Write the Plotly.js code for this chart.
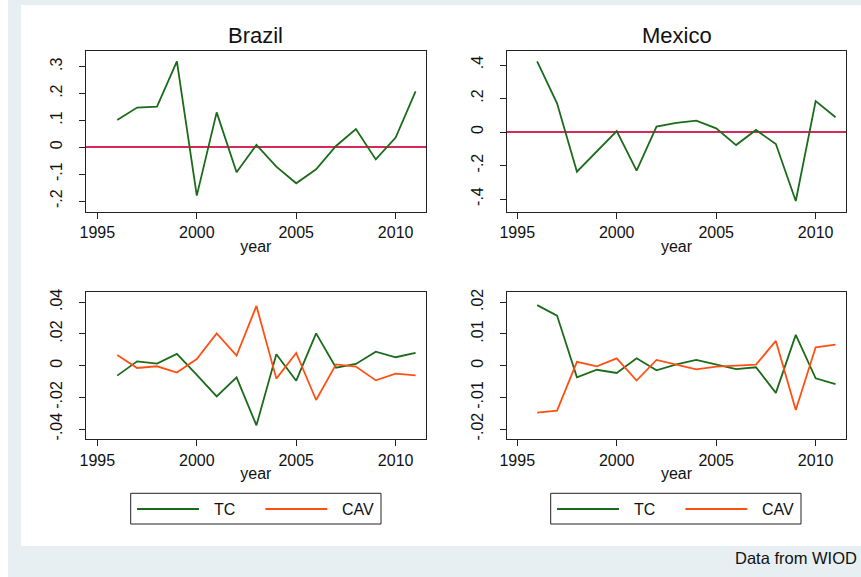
<!DOCTYPE html>
<html>
<head>
<meta charset="utf-8">
<script src="https://cdn.plot.ly/plotly-3.0.1.min.js"></script>
<style>
  html, body { margin: 0; padding: 0; background: #e7eff2; }
  #chart { width: 861px; height: 577px; }
</style>
</head>
<body>
<div id="chart"></div>
<script>
// ---- data ----
const years = [1996, 1997, 1998, 1999, 2000, 2001, 2002, 2003, 2004, 2005, 2006, 2007, 2008, 2009, 2010, 2011];

// top row: single green series per country
const brazilTop = [0.102, 0.148, 0.151, 0.320, -0.180, 0.130, -0.093, 0.009, -0.072, -0.134, -0.082, 0.005, 0.068, -0.045, 0.036, 0.208];
const mexicoTop = [0.422, 0.171, -0.237, -0.117, 0.006, -0.231, 0.032, 0.054, 0.068, 0.022, -0.078, 0.012, -0.072, -0.412, 0.185, 0.088];

// bottom row: TC and CAV per country
const brazilTC  = [-0.0063, 0.0027, 0.0013, 0.0074, -0.0059, -0.0194, -0.0074, -0.0377, 0.0072, -0.0095, 0.0204, -0.0013, 0.0011, 0.0088, 0.0053, 0.0080];
const brazilCAV = [0.0067, -0.0015, -0.0004, -0.0044, 0.0042, 0.0204, 0.0063, 0.0377, -0.0082, 0.0080, -0.0217, 0.0008, -0.0006, -0.0093, -0.0051, -0.0061];
const mexicoTC  = [0.0191, 0.0158, -0.0037, -0.0013, -0.0023, 0.0023, -0.0015, 0.0004, 0.0018, 0.0003, -0.0011, -0.0005, -0.0086, 0.0097, -0.0040, -0.0058];
const mexicoCAV = [-0.0148, -0.0142, 0.0012, -0.0002, 0.0023, -0.0047, 0.0018, 0.0002, -0.0012, -0.0003, -0.0001, 0.0003, 0.0078, -0.0140, 0.0058, 0.0066];

const panelTitles = ["Brazil", "Mexico"];
const seriesNames = ["TC", "CAV"];
const xTickVals = [1995, 2000, 2005, 2010];
const yTicksBrazilTop = { vals: [-0.2, -0.1, 0, 0.1, 0.2, 0.3], text: ["-.2", "-.1", "0", ".1", ".2", ".3"] };
const yTicksMexicoTop = { vals: [-0.4, -0.2, 0, 0.2, 0.4], text: ["-.4", "-.2", "0", ".2", ".4"] };
const yTicksBrazilBot = { vals: [-0.04, -0.02, 0, 0.02, 0.04], text: ["-.04", "-.02", "0", ".02", ".04"] };
const yTicksMexicoBot = { vals: [-0.02, -0.01, 0, 0.01, 0.02], text: ["-.02", "-.01", "0", ".01", ".02"] };
const sourceNote = "Data from WIOD";

// ---- styling ----
const GREEN = "#1b6b1b";
const ORANGE = "#ff5014";
const ZERO = "#d42a55";
const FRAME = "#222222";
const FONT = "Arial, 'Liberation Sans', Helvetica, sans-serif";
const W = 861, H = 577;
const px = v => v / W;
const py = v => (H - v) / H;
const seriesColors = [GREEN, ORANGE];

const traces = [
  { x: years, y: brazilTop, xaxis: "x", yaxis: "y", mode: "lines", line: { color: GREEN, width: 1.8 }, name: "Brazil" },
  { x: years, y: mexicoTop, xaxis: "x2", yaxis: "y2", mode: "lines", line: { color: GREEN, width: 1.8 }, name: "Mexico" },
  { x: years, y: brazilTC, xaxis: "x3", yaxis: "y3", mode: "lines", line: { color: GREEN, width: 1.8 }, name: seriesNames[0] },
  { x: years, y: brazilCAV, xaxis: "x3", yaxis: "y3", mode: "lines", line: { color: ORANGE, width: 1.8 }, name: seriesNames[1] },
  { x: years, y: mexicoTC, xaxis: "x4", yaxis: "y4", mode: "lines", line: { color: GREEN, width: 1.8 }, name: seriesNames[0] },
  { x: years, y: mexicoCAV, xaxis: "x4", yaxis: "y4", mode: "lines", line: { color: ORANGE, width: 1.8 }, name: seriesNames[1] }
];

function xAxis(domain, range, anchor) {
  return {
    domain: domain, range: range, anchor: anchor,
    tickmode: "array", tickvals: xTickVals, ticktext: xTickVals.map(String),
    ticks: "outside", ticklen: 6, tickwidth: 1, tickcolor: FRAME,
    showline: true, mirror: true, linecolor: FRAME, linewidth: 1,
    showgrid: false, zeroline: false, automargin: false,
    tickfont: { family: FONT, size: 16, color: "#111" },
    title: { text: "year", font: { family: FONT, size: 16, color: "#111" }, standoff: 0 }
  };
}
function yAxis(domain, range, anchor, ticks, zero) {
  return {
    domain: domain, range: range, anchor: anchor,
    tickmode: "array", tickvals: ticks.vals, ticktext: ticks.text,
    tickangle: -90,
    ticks: "outside", ticklen: 6, tickwidth: 1, tickcolor: FRAME,
    ticklabelstandoff: 11,
    showline: true, mirror: true, linecolor: FRAME, linewidth: 1,
    showgrid: false, automargin: false,
    zeroline: zero, zerolinecolor: ZERO, zerolinewidth: 2,
    tickfont: { family: FONT, size: 16, color: "#111" }
  };
}

const xL = [px(86), px(425.7)];
const xR = [px(507.3), px(845.7)];
const yT = [py(211.7), py(50.7)];
const yB = [py(439.3), py(292.3)];

// legend boxes (one under each bottom panel), drawn as shapes + text
const legendLefts = [130.7, 550.7];
const shapes = [
  { type: "rect", xref: "paper", yref: "paper", x0: px(21), x1: 1.01, y0: py(546), y1: py(5), fillcolor: "#ffffff", line: { width: 0 }, layer: "below" },
  { type: "rect", xref: "paper", yref: "paper", x0: -0.01, x1: px(8), y0: -0.01, y1: 1.01, fillcolor: "#ffffff", line: { width: 0 }, layer: "below" }
];
const annotations = [
  { text: panelTitles[0], xref: "paper", yref: "paper", x: (xL[0] + xL[1]) / 2, y: py(35), xanchor: "center", yanchor: "middle", showarrow: false, font: { family: FONT, size: 22, color: "#111" } },
  { text: panelTitles[1], xref: "paper", yref: "paper", x: (xR[0] + xR[1]) / 2, y: py(35), xanchor: "center", yanchor: "middle", showarrow: false, font: { family: FONT, size: 22, color: "#111" } },
  { text: sourceNote, xref: "paper", yref: "paper", x: px(859), y: py(558), xanchor: "right", yanchor: "middle", showarrow: false, font: { family: FONT, size: 16.5, color: "#111" } }
];
legendLefts.forEach(L => {
  shapes.push({ type: "rect", xref: "paper", yref: "paper", x0: px(L), x1: px(L + 250.3), y0: py(524), y1: py(493.3), fillcolor: "#ffffff", line: { color: FRAME, width: 1 } });
  seriesNames.forEach((name, i) => {
    const off = i * 128.3;
    shapes.push({ type: "line", xref: "paper", yref: "paper", x0: px(L + 6.3 + off), x1: px(L + 68.3 + off), y0: py(509), y1: py(509), line: { color: seriesColors[i], width: 1.8 } });
    annotations.push({ text: name, xref: "paper", yref: "paper", x: px(L + 81 + off), y: py(509), xanchor: "left", yanchor: "middle", showarrow: false, font: { family: FONT, size: 16, color: "#111" } });
  });
});

const layout = {
  width: W, height: H,
  margin: { l: 0, r: 0, t: 0, b: 0, pad: 0 },
  paper_bgcolor: "#e7eff2",
  plot_bgcolor: "#ffffff",
  showlegend: false,
  font: { family: FONT, size: 16, color: "#111" },
  xaxis: xAxis(xL, [1994.43, 2011.51], "y"),
  yaxis: yAxis(yT, [-0.2397, 0.3595], "x", yTicksBrazilTop, true),
  xaxis2: xAxis(xR, [1994.5, 2011.51], "y2"),
  yaxis2: yAxis(yT, [-0.4758, 0.4854], "x2", yTicksMexicoTop, true),
  xaxis3: xAxis(xL, [1994.43, 2011.51], "y3"),
  yaxis3: yAxis(yB, [-0.0465, 0.0463], "x3", yTicksBrazilBot, false),
  xaxis4: xAxis(xR, [1994.5, 2011.51], "y4"),
  yaxis4: yAxis(yB, [-0.02325, 0.02315], "x4", yTicksMexicoBot, false),
  shapes: shapes,
  annotations: annotations
};

Plotly.newPlot("chart", traces, layout, { displayModeBar: false, staticPlot: true });
</script>
</body>
</html>
